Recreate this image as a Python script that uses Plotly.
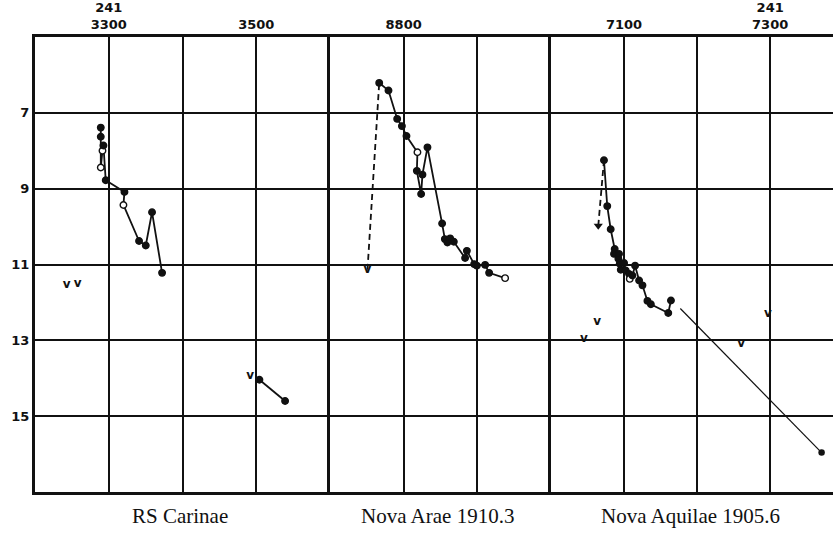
import plotly.graph_objects as go

# ---------------- data ----------------
# RS Carinae (JD - 2410000), magnitudes
rs_a_jd   = [3289.2, 3289.2, 3289.2, 3291.5, 3292.8, 3295.9, 3321.3, 3319.9, 3341.1, 3350.2, 3358.7, 3372.3]
rs_a_mag  = [7.39, 7.63, 8.44, 8.00, 7.86, 8.78, 9.09, 9.43, 10.38, 10.50, 9.62, 11.22]
rs_a_open = [0, 0, 1, 1, 0, 0, 0, 1, 0, 0, 0, 0]
rs_b_jd   = [3504.3, 3539.1]
rs_b_mag  = [14.04, 14.60]
rs_lim_jd  = [3243.0, 3258.0, 3491.6]
rs_lim_mag = [11.55, 11.51, 13.95]

# Nova Arae 1910.3
ar_rise_jd  = [8750.9, 8766.8]
ar_rise_mag = [11.14, 6.21]
ar_jd   = [8766.8, 8779.4, 8791.2, 8797.6, 8803.8, 8818.7, 8817.9, 8823.7, 8825.5, 8832.3,
           8852.2, 8855.9, 8859.4, 8863.1, 8868.1, 8883.4, 8885.8, 8895.7, 8899.3, 8910.6,
           8916.0, 8937.7]
ar_mag  = [6.21, 6.41, 7.16, 7.35, 7.61, 8.04, 8.53, 9.14, 8.63, 7.91,
           9.92, 10.33, 10.42, 10.31, 10.40, 10.83, 10.64, 10.99, 11.03, 11.01,
           11.22, 11.36]
ar_open = [0, 0, 0, 0, 0, 1, 0, 0, 0, 0,
           0, 0, 0, 0, 0, 0, 0, 0, 0, 0,
           0, 1]
ar_lim_jd  = [8750.9]
ar_lim_mag = [11.14]

# Nova Aquilae 1905.6
aq_rise_jd  = [7064.7, 7072.5]
aq_rise_mag = [9.98, 8.25]
aq_jd   = [7072.5, 7077.0, 7081.7, 7087.2, 7086.3, 7093.1, 7092.2, 7095.5, 7094.1, 7100.0,
           7102.3, 7106.9, 7107.8, 7111.4, 7115.1, 7120.6, 7125.2, 7132.0, 7136.7, 7160.5,
           7164.2]
aq_mag  = [8.25, 9.46, 10.07, 10.59, 10.72, 10.72, 10.85, 11.14, 10.98, 10.96,
           11.16, 11.25, 11.38, 11.29, 11.03, 11.42, 11.55, 11.96, 12.05, 12.28,
           11.95]
aq_open = [0, 0, 0, 0, 0, 0, 0, 0, 0, 0,
           0, 0, 1, 0, 0, 0, 0, 0, 0, 0,
           0]
aq_ext_jd  = [7177.0, 7370.4]
aq_ext_mag = [12.16, 15.96]
aq_lim_jd  = [7045.0, 7063.3, 7260.4, 7297.0]
aq_lim_mag = [12.97, 12.51, 13.09, 12.30]

# axes
mag_ticks = [7, 9, 11, 13, 15]
p1_ticks = [3300, 3400, 3500]
p1_text  = ["241<br>3300", "", "3500"]
p2_ticks = [8800, 8900]
p2_text  = ["8800", ""]
p3_ticks = [7100, 7200, 7300]
p3_text  = ["7100", "", "241<br>7300"]
panel_titles = ["RS Carinae", "Nova Arae 1910.3", "Nova Aquilae 1905.6"]

# ---------------- figure ----------------
INK = "#111111"
fig = go.Figure()

def fills(flags):
    return ["white" if f else INK for f in flags]

def curve(x, y, flags, xa, ya, width=1.8):
    fig.add_trace(go.Scatter(
        x=x, y=y, mode="lines+markers", xaxis=xa, yaxis=ya,
        line=dict(color=INK, width=width),
        marker=dict(size=6.5, color=fills(flags), line=dict(color=INK, width=1.4)),
        showlegend=False, hoverinfo="skip"))

def limits(x, y, xa, ya):
    fig.add_trace(go.Scatter(
        x=x, y=y, mode="text", text=["v"] * len(x), xaxis=xa, yaxis=ya,
        textfont=dict(family="DejaVu Sans", size=12, color=INK, weight="bold"),
        textposition="middle center", showlegend=False, hoverinfo="skip"))

# panel 1
curve(rs_a_jd, rs_a_mag, rs_a_open, "x", "y")
curve(rs_b_jd, rs_b_mag, [0] * len(rs_b_jd), "x", "y")
limits(rs_lim_jd, rs_lim_mag, "x", "y")

# panel 2
fig.add_trace(go.Scatter(x=ar_rise_jd, y=ar_rise_mag, mode="lines", xaxis="x2", yaxis="y2",
                         line=dict(color=INK, width=1.8, dash="6px,4px"),
                         showlegend=False, hoverinfo="skip"))
curve(ar_jd, ar_mag, ar_open, "x2", "y2")
limits(ar_lim_jd, ar_lim_mag, "x2", "y2")

# panel 3
fig.add_trace(go.Scatter(x=aq_rise_jd, y=aq_rise_mag, mode="lines", xaxis="x3", yaxis="y3",
                         line=dict(color=INK, width=1.8, dash="6px,4px"),
                         showlegend=False, hoverinfo="skip"))
fig.add_trace(go.Scatter(x=aq_rise_jd[:1], y=aq_rise_mag[:1], mode="markers", xaxis="x3", yaxis="y3",
                         marker=dict(symbol="triangle-down", size=8, color=INK),
                         showlegend=False, hoverinfo="skip"))
curve(aq_jd, aq_mag, aq_open, "x3", "y3")
fig.add_trace(go.Scatter(x=aq_ext_jd, y=aq_ext_mag, mode="lines", xaxis="x3", yaxis="y3",
                         line=dict(color=INK, width=1.2),
                         showlegend=False, hoverinfo="skip"))
fig.add_trace(go.Scatter(x=aq_ext_jd[-1:], y=aq_ext_mag[-1:], mode="markers", xaxis="x3", yaxis="y3",
                         marker=dict(size=6.5, color=INK),
                         showlegend=False, hoverinfo="skip"))
limits(aq_lim_jd, aq_lim_mag, "x3", "y3")

# ---------------- layout ----------------
W, H = 833, 533
ML, MR, MT, MB = 35, 0, 37, 41
plot_w = W - ML - MR
d1 = (330 - ML) / plot_w
d2 = (551 - ML) / plot_w

tickfont = dict(family="DejaVu Sans", size=13, color=INK, weight="bold")

def xax(domain, rng, tv, tt, anchor):
    return dict(domain=domain, range=rng, side="top", tickvals=tv, ticktext=tt,
                showgrid=True, gridcolor=INK, gridwidth=1.8, zeroline=False,
                showline=True, mirror=True, linecolor=INK, linewidth=3,
                ticks="", tickfont=tickfont, anchor=anchor, fixedrange=True)

def yax(anchor, labels):
    return dict(domain=[0, 1], range=[17, 5], tickvals=mag_ticks,
                showticklabels=labels, showgrid=True, gridcolor=INK, gridwidth=1.8,
                zeroline=False, showline=True, linecolor=INK, linewidth=3,
                ticks="", tickfont=tickfont, anchor=anchor, fixedrange=True)

annotations = []
for txt, cx in zip(panel_titles, [180, 437, 690]):
    annotations.append(dict(text=txt, x=(cx - ML) / plot_w, y=-24 / (H - MT - MB),
                            xref="paper", yref="paper", xanchor="center", yanchor="middle",
                            showarrow=False,
                            font=dict(family="Liberation Serif", size=21, color=INK)))

fig.update_layout(
    width=W, height=H,
    margin=dict(l=ML, r=MR, t=MT, b=MB, pad=0),
    paper_bgcolor="white", plot_bgcolor="white",
    xaxis=xax([0, d1], [3200, 3600], p1_ticks, p1_text, "y"),
    xaxis2=xax([d1, d2], [8700, 9000], p2_ticks, p2_text, "y2"),
    xaxis3=xax([d2, 1], [7000, 7386], p3_ticks, p3_text, "y3"),
    yaxis=yax("x", True),
    yaxis2=yax("x2", False),
    yaxis3=yax("x3", False),
    annotations=annotations,
    showlegend=False,
)

fig.write_html("out.html", config={"displayModeBar": False},
               post_script="document.body.style.margin='0';document.body.style.overflow='hidden';")
